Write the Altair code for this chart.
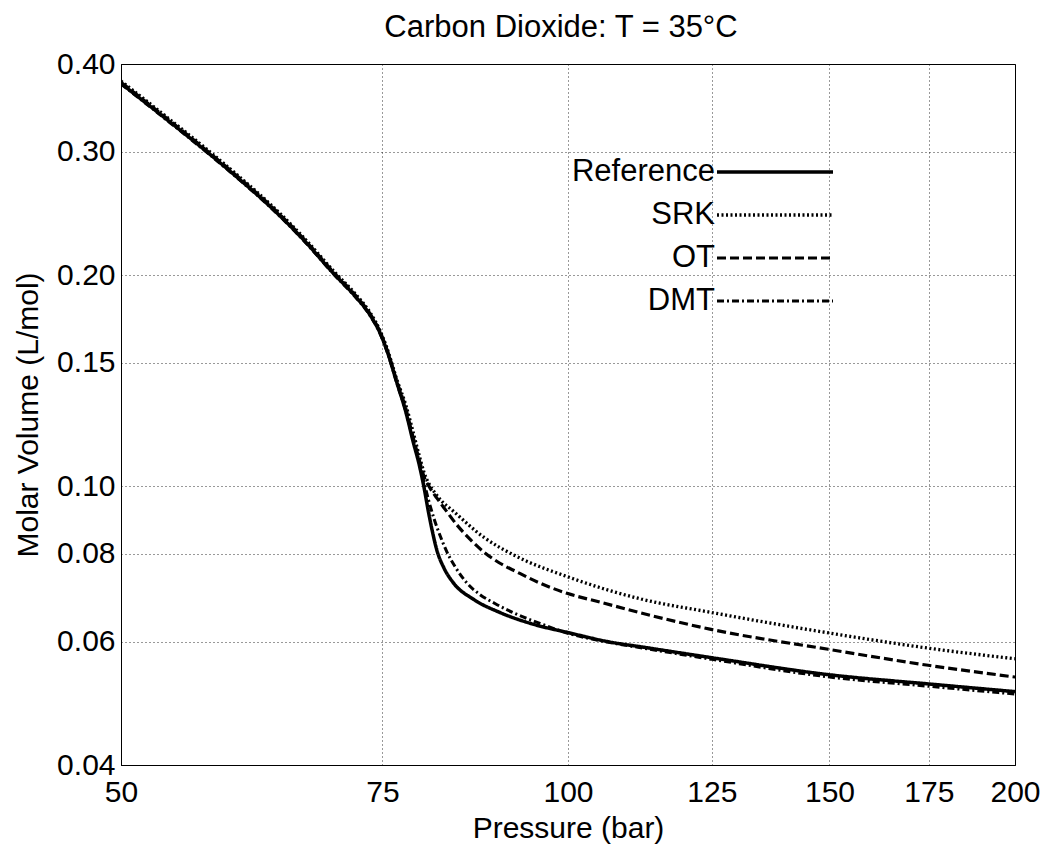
import altair as alt
import pandas as pd

series_names = ["Reference", "SRK", "OT", "DMT"]

ref_p = [50, 53.39, 57.1, 60.12, 63.10, 66.31, 69.68, 71.87, 73.57, 74.72, 75.50, 76.72, 77.8, 78.6, 79.4,
         80.0, 80.5, 81.0, 81.6, 82.5, 83.7, 86.4, 90.0, 94.8, 100, 106.3, 113, 125, 150, 175, 200]
ref_v = [0.3753, 0.3364, 0.300, 0.2736, 0.2498, 0.2249, 0.200, 0.1867, 0.1754, 0.1653, 0.1563, 0.1401,
         0.1271, 0.1163, 0.1072, 0.0994, 0.0924, 0.0865, 0.0810, 0.0764, 0.0728, 0.0689, 0.0660, 0.0635,
         0.0618, 0.0600, 0.0588, 0.0569, 0.0538, 0.0522, 0.0509]

srk_p = [50, 53.39, 57.1, 60.12, 63.10, 66.31, 69.68, 71.87, 73.57, 74.72, 75.50, 76.72, 77.8, 78.6, 79.4,
         80.0, 80.6, 81.3, 82.2, 83.5, 87.7, 92.3, 100, 112, 125, 150, 175, 200]
srk_v = [0.3783, 0.3391, 0.3024, 0.2758, 0.2518, 0.2267, 0.2016, 0.1882, 0.1768, 0.1666, 0.1576, 0.1415,
         0.130, 0.120, 0.1105, 0.1045, 0.1008, 0.0980, 0.0952, 0.0925, 0.0846, 0.0794, 0.0742, 0.0690,
         0.0660, 0.0617, 0.0587, 0.0567]

ot_p = [50, 53.39, 57.1, 60.12, 63.10, 66.31, 69.68, 71.87, 73.57, 74.72, 75.50, 76.72, 77.8, 78.6, 79.4,
        80.0, 80.73, 81.61, 82.63, 84.18, 85.89, 87.78, 89.99, 92.39, 95.74, 99.85, 105.1, 113.6, 124.6,
        149.7, 174.8, 200]
ot_v = [0.3768, 0.3377, 0.3012, 0.2747, 0.2508, 0.2258, 0.2008, 0.1874, 0.1761, 0.1660, 0.1569, 0.1407,
        0.1285, 0.118, 0.109, 0.1031, 0.0994, 0.0961, 0.0927, 0.0880, 0.0840, 0.0805, 0.0776, 0.0754,
        0.0727, 0.0703, 0.0683, 0.0654, 0.0625, 0.0585, 0.0555, 0.0534]

dmt_p = [50, 53.39, 57.1, 60.12, 63.10, 66.31, 69.68, 71.87, 73.57, 74.72, 75.50, 76.72, 77.8, 78.6, 79.37,
         79.98, 80.6, 81.23, 81.99, 82.89, 84.05, 85.5, 87.24, 89.29, 92.1, 95.74, 99.85, 106.3, 113, 125,
         150, 175, 200]
dmt_v = [0.3746, 0.3357, 0.2994, 0.2731, 0.2493, 0.2245, 0.1996, 0.1863, 0.1750, 0.1650, 0.1560, 0.1398,
         0.1275, 0.117, 0.1087, 0.1014, 0.0951, 0.0899, 0.0851, 0.0805, 0.0764, 0.0727, 0.0700, 0.0680,
         0.0658, 0.0637, 0.0617, 0.0599, 0.0586, 0.0566, 0.0534, 0.0518, 0.0505]

x_ticks = [50, 75, 100, 125, 150, 175, 200]
y_ticks = [0.04, 0.06, 0.08, 0.10, 0.15, 0.20, 0.30, 0.40]

rows = []
for name, ps, vs in [("Reference", ref_p, ref_v), ("SRK", srk_p, srk_v),
                     ("OT", ot_p, ot_v), ("DMT", dmt_p, dmt_v)]:
    for i, (p, v) in enumerate(zip(ps, vs)):
        rows.append({"series": name, "P": p, "V": v, "order": i})
df = pd.DataFrame(rows)
legend_df = pd.DataFrame({"series": series_names, "row": list(range(len(series_names)))})

FONT = "Liberation Sans"

dash_scale = alt.Scale(domain=series_names, range=[[1, 0], [2, 2.5], [9, 4], [7, 3, 2, 3]])
width_scale = alt.Scale(domain=series_names, range=[3.5, 3, 3.5, 3])

lines = alt.Chart(df).mark_line(interpolate="monotone", color="black", clip=True).encode(
    x=alt.X("P:Q", scale=alt.Scale(type="log", domain=[50, 200], nice=False),
            axis=alt.Axis(values=x_ticks, format="d", title="Pressure (bar)",
                          labelPadding=12, titlePadding=6)),
    y=alt.Y("V:Q", scale=alt.Scale(type="log", domain=[0.04, 0.4], nice=False),
            axis=alt.Axis(values=y_ticks, format=".2f", title="Molar Volume (L/mol)",
                          labelPadding=6, titlePadding=13)),
    strokeDash=alt.StrokeDash("series:N", scale=dash_scale, legend=None),
    strokeWidth=alt.StrokeWidth("series:N", scale=width_scale, legend=None),
    order="order:Q",
)

leg_y = alt.Y("row:Q", scale=alt.Scale(domain=[0, 3], range=[108, 237], nice=False, zero=False), axis=None)

leg_lines = alt.Chart(legend_df).mark_rule(color="black").encode(
    x=alt.value(596), x2=alt.value(712), y=leg_y,
    strokeDash=alt.StrokeDash("series:N", scale=dash_scale, legend=None),
    strokeWidth=alt.StrokeWidth("series:N", scale=width_scale, legend=None),
)

leg_text = alt.Chart(legend_df).mark_text(
    align="right", baseline="middle", font=FONT, fontSize=31, color="black"
).encode(
    x=alt.value(594), y=leg_y, text="series:N",
)

chart = alt.layer(lines, leg_lines, leg_text).resolve_scale(y="independent").properties(
    width=894, height=701,
    title=alt.Title("Carbon Dioxide: T = 35°C", fontSize=31, font=FONT, fontWeight="normal",
                    color="black", offset=5, dx=-7),
    autosize=alt.AutoSizeParams(type="none"),
    padding={"left": 121, "top": 64, "right": 30, "bottom": 79},
).configure_view(
    stroke="black", strokeWidth=1
).configure_axis(
    labelFont=FONT, titleFont=FONT, labelFontSize=30, titleFontSize=30,
    labelColor="black", titleColor="black", titleFontWeight="normal",
    ticks=False, tickSize=0, domainColor="black", domainWidth=1,
    grid=True, gridColor="black", gridOpacity=0.8, gridDash=[1, 3], gridWidth=1,
    labelOverlap=False, labelFlush=False,
)

chart.save("out.html", embed_options={"renderer": "svg", "actions": False})
